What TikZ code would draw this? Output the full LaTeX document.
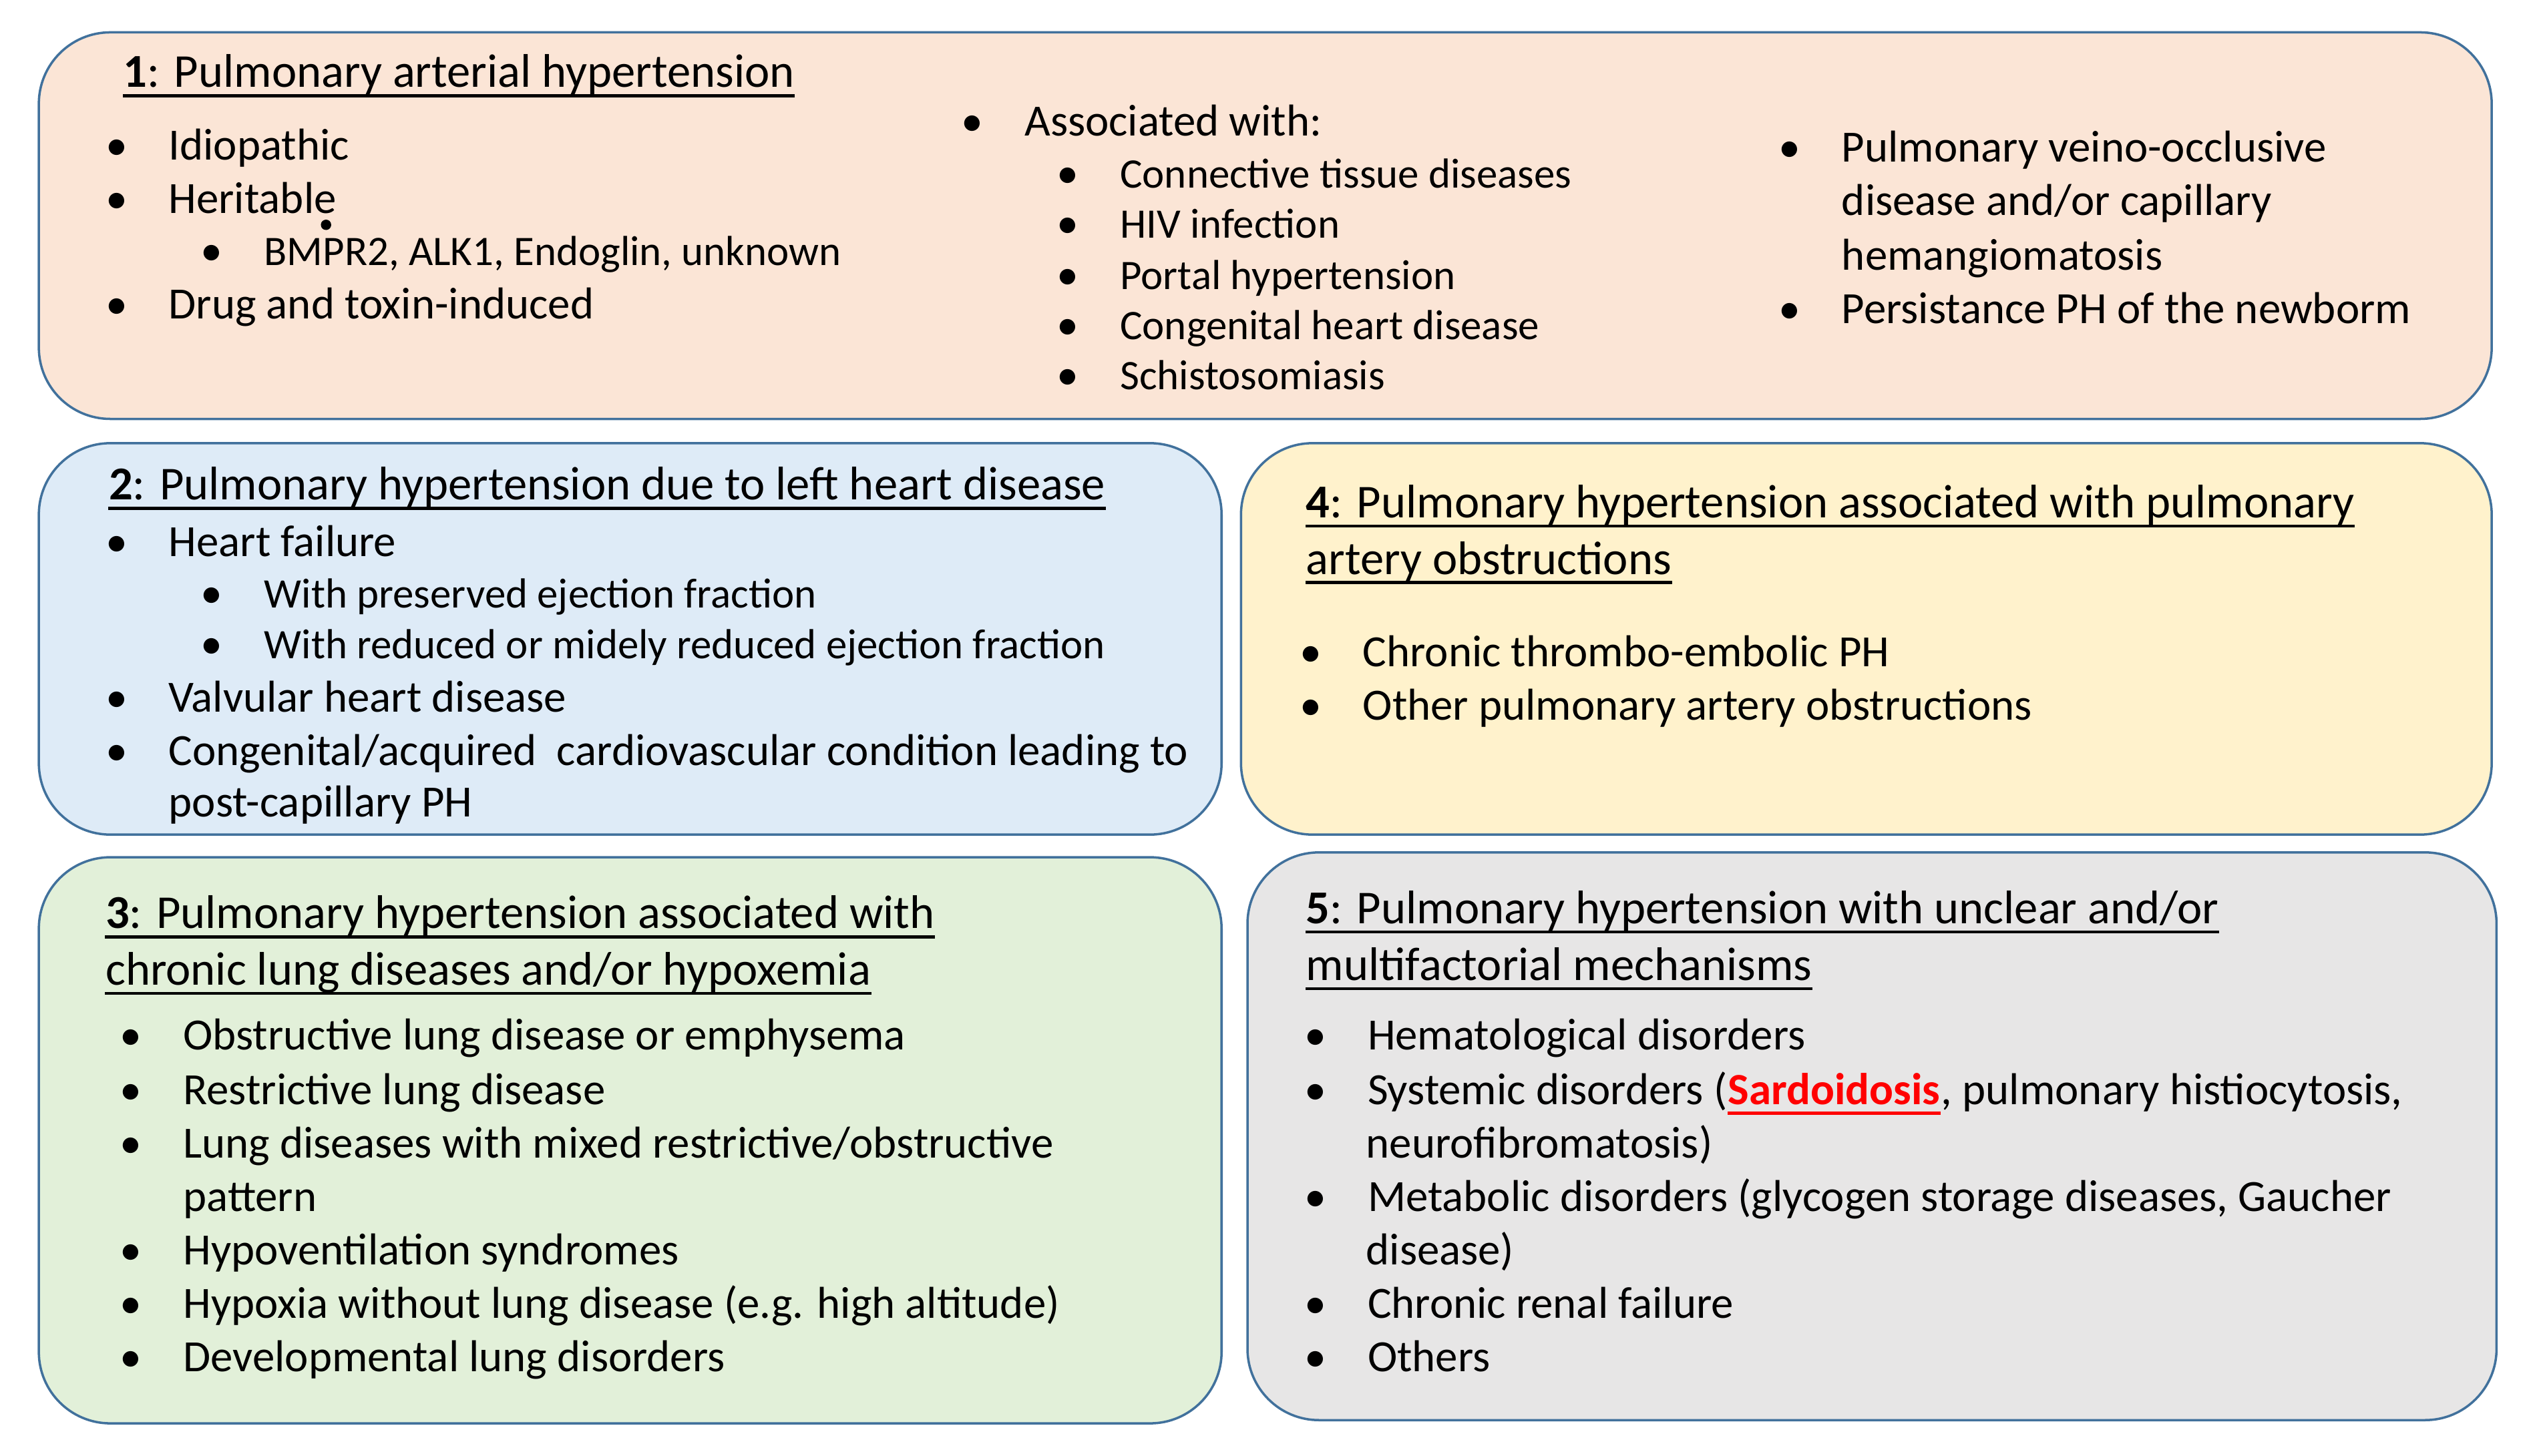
\documentclass[tikz,border=0pt]{standalone}
\usepackage{fontspec}
\setmainfont{Carlito}
\usetikzlibrary{fit}
\definecolor{edge}{HTML}{41719C}
\definecolor{cone}{HTML}{FBE5D6}
\definecolor{ctwo}{HTML}{DEEBF7}
\definecolor{cthree}{HTML}{E2F0D9}
\definecolor{cfour}{HTML}{FFF2CC}
\definecolor{cfive}{HTML}{E7E6E6}
\definecolor{sred}{HTML}{FF0000}
\newcommand\ulnode[2][black]{\draw[#1,line width=1.3pt] ([yshift=-3.6pt]#2.base west) -- ([yshift=-3.6pt]#2.base east);}
\newcommand\itm[4]{\node[bul] (#1b) at (#2,#3) {\textbullet}; \node[txt] (#1) at (#2+32,#3) {#4};}
\newcommand\sitm[4]{\node[bul] (#1b) at (#2,#3) {\textbullet}; \node[stxt] (#1) at (#2+32,#3) {#4};}
\begin{document}
\begin{tikzpicture}[x=0.024228cm,y=-0.024228cm,
  box/.style={draw=edge,line width=1pt,rounded corners=1.07cm,inner sep=0pt},
  txt/.style={anchor=base west,inner sep=0pt,font=\fontsize{19.03}{22}\selectfont},
  stxt/.style={anchor=base west,inner sep=0pt,font=\fontsize{17.9}{22}\selectfont},
  ttl/.style={anchor=base west,inner sep=0pt,font=\fontsize{20.1}{24}\selectfont},
  bul/.style={anchor=base,inner sep=0pt,font=\fontsize{18.75}{22}\selectfont},
  dot/.style={circle,fill=black,inner sep=0pt,minimum size=0.155cm}]
\useasboundingbox (0,0) rectangle (1568,900);
% boxes
\node[box,fill=cone,fit={(24,20) (1540,259)}] (box1) {};
\node[box,fill=ctwo,fit={(24,274) (755,516)}] (box2) {};
\node[box,fill=cfour,fit={(767,274) (1540,516)}] (box4) {};
\node[box,fill=cthree,fit={(24,530) (755,880)}] (box3) {};
\node[box,fill=cfive,fit={(771,527) (1543,878)}] (box5) {};
% box 1
\node[ttl] (t1) at (76,54) {\textbf{1}: Pulmonary arterial hypertension};
\ulnode{t1}
\itm{a1}{72}{99}{Idiopathic}
\itm{a2}{72}{132}{Heritable}
\sitm{a3}{131}{164}{BMPR2, ALK1, Endoglin, unknown}
\itm{a4}{72}{197}{Drug and toxin-induced}
\node[dot] (stray) at (201.5,139) {};
\itm{b0}{601}{84}{Associated with:}
\sitm{b1}{660}{116}{Connective tissue diseases}
\sitm{b2}{660}{147}{HIV infection}
\sitm{b3}{660}{179}{Portal hypertension}
\sitm{b4}{660}{210}{Congenital heart disease}
\sitm{b5}{660}{241}{Schistosomiasis}
\itm{c1}{1106}{100}{Pulmonary veino-occlusive}
\node[txt] (c1x) at (1138,133) {disease and/or capillary};
\node[txt] (c1y) at (1138,167) {hemangiomatosis};
\itm{c2}{1106}{200}{Persistance PH of the newborm}
% box 2
\node[ttl] (t2) at (67,309) {\textbf{2}: Pulmonary hypertension due to left heart disease};
\ulnode{t2}
\itm{d1}{72}{344}{Heart failure}
\sitm{d2}{131}{376}{With preserved ejection fraction}
\sitm{d3}{131}{407}{With reduced or midely reduced ejection fraction}
\itm{d4}{72}{440}{Valvular heart disease}
\itm{d5}{72}{473}{Congenital/acquired\ \ cardiovascular condition leading to}
\node[txt] (d5x) at (104,505) {post-capillary PH};
% box 4
\node[ttl] (t4a) at (807,320) {\textbf{4}: Pulmonary hypertension associated with pulmonary};
\node[ttl] (t4b) at (807,355) {artery obstructions};
\ulnode{t4a}\ulnode{t4b}
\itm{e1}{810}{412}{Chronic thrombo-embolic PH}
\itm{e2}{810}{445}{Other pulmonary artery obstructions}
% box 3
\node[ttl] (t3a) at (65,574) {\textbf{3}: Pulmonary hypertension associated with};
\node[ttl] (t3b) at (65,609) {chronic lung diseases and/or hypoxemia};
\ulnode{t3a}\ulnode{t3b}
\itm{f1}{81}{649}{Obstructive lung disease or emphysema}
\itm{f2}{81}{683}{Restrictive lung disease}
\itm{f3}{81}{716}{Lung diseases with mixed restrictive/obstructive}
\node[txt] (f3x) at (113,749) {pattern};
\itm{f4}{81}{782}{Hypoventilation syndromes}
\itm{f5}{81}{815}{Hypoxia without lung disease (e.g. high altitude)}
\itm{f6}{81}{848}{Developmental lung disorders}
% box 5
\node[ttl] (t5a) at (807,571) {\textbf{5}: Pulmonary hypertension with unclear and/or};
\node[ttl] (t5b) at (807,606) {multifactorial mechanisms};
\ulnode{t5a}\ulnode{t5b}
\itm{g1}{813}{649}{Hematological disorders}
\itm{g2}{813}{683}{Systemic disorders (}
\node[txt,anchor=base west,text=sred] (g2s) at (g2.base east) {\textbf{Sardoidosis}};
\node[txt,anchor=base west] (g2t) at (g2s.base east) {, pulmonary histiocytosis,};
\ulnode[sred]{g2s}
\node[txt] (g2x) at (844,716) {neurofibromatosis)};
\itm{g3}{813}{749}{Metabolic disorders (glycogen storage diseases, Gaucher}
\node[txt] (g3x) at (844,782) {disease)};
\itm{g4}{813}{815}{Chronic renal failure}
\itm{g5}{813}{848}{Others}
\end{tikzpicture}
\end{document}
